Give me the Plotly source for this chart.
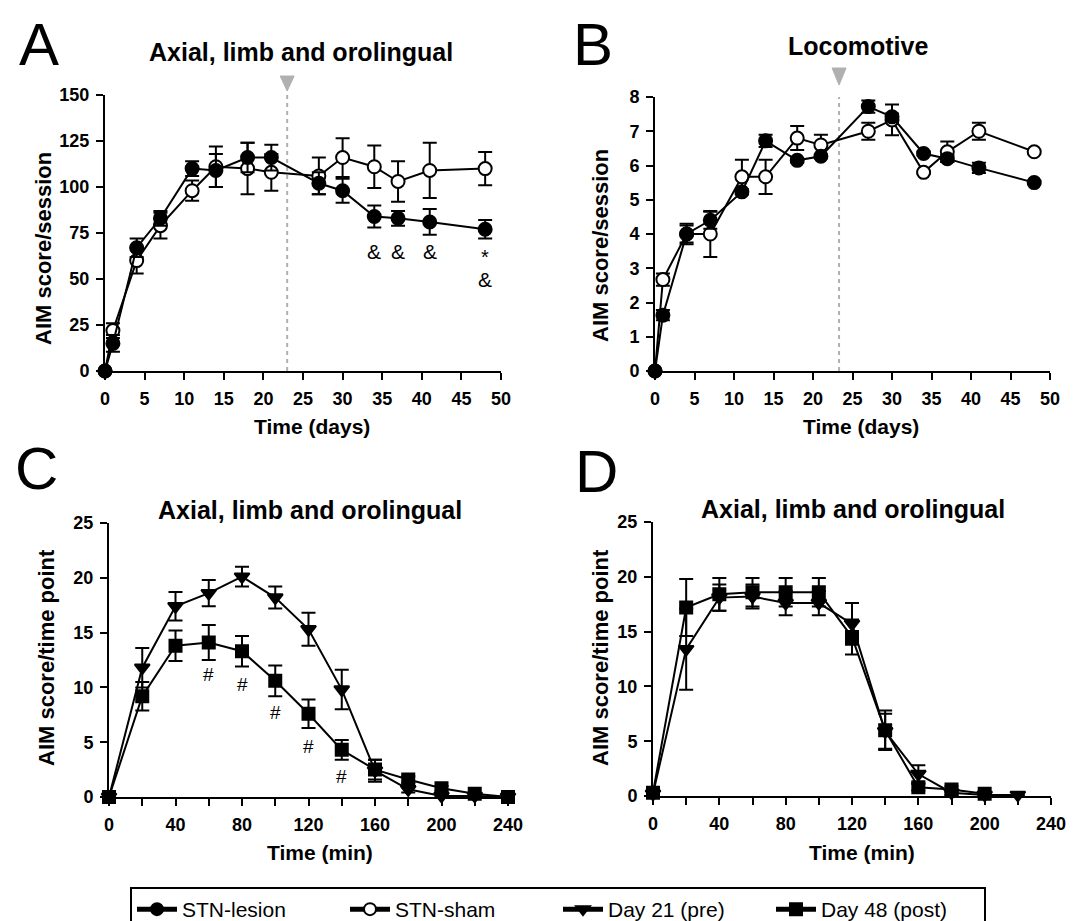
import plotly.graph_objects as go

W, H = 1079, 921

# ---------------- data ----------------
days = [0, 1, 4, 7, 11, 14, 18, 21, 27, 30, 34, 37, 41, 48]
a_lesion = [0, 15, 67, 83, 110, 109, 116, 116, 102, 98, 84, 83, 81, 77]
a_lesion_err = [0, 4.5, 5, 4, 4, 9, 8, 7, 6, 6.5, 6, 4, 7, 5]
a_sham = [0, 22, 60, 79, 98, 111, 110, 108, 106, 116, 111, 103, 109, 110]
a_sham_err = [0, 4, 7, 7, 5.5, 11, 14, 10, 10, 10.5, 11.5, 11, 15, 9]

b_lesion = [0, 1.63, 4.0, 4.4, 5.23, 6.72, 6.15, 6.27, 7.72, 7.42, 6.35, 6.2, 5.93, 5.5]
b_lesion_err = [0, 0.15, 0.25, 0.25, 0.08, 0.18, 0.06, 0.06, 0.18, 0.1, 0.06, 0.1, 0.15, 0.05]
b_sham = [0, 2.67, 4.0, 4.0, 5.67, 5.67, 6.8, 6.6, 7.0, 7.33, 5.8, 6.4, 7.0, 6.4]
b_sham_err = [0, 0.18, 0.3, 0.67, 0.5, 0.5, 0.35, 0.3, 0.25, 0.45, 0.05, 0.3, 0.25, 0.05]

minutes = [0, 20, 40, 60, 80, 100, 120, 140, 160, 180, 200, 220, 240]
c_pre = [0, 11.8, 17.4, 18.6, 20.1, 18.2, 15.3, 9.8, 2.4, 0.7, 0.1, 0.1, 0]
c_pre_err = [0, 1.8, 1.3, 1.2, 0.9, 1.0, 1.5, 1.8, 1.0, 0.3, 0, 0, 0]
c_post = [0, 9.2, 13.8, 14.1, 13.3, 10.6, 7.6, 4.3, 2.5, 1.6, 0.8, 0.3, 0]
c_post_err = [0, 1.3, 1.4, 1.6, 1.4, 1.4, 1.3, 0.9, 0.9, 0.3, 0.2, 0, 0]

d_min_pre = [0, 20, 40, 60, 80, 100, 120, 140, 160, 180, 200, 220]
d_pre = [0.2, 13.4, 18.1, 18.2, 17.6, 17.6, 15.7, 5.9, 2.0, 0.3, 0.1, 0.1]
d_pre_err = [0, 3.7, 1.2, 1.1, 1.1, 1.1, 1.9, 1.6, 0.8, 0.2, 0, 0]
d_min_post = [0, 20, 40, 60, 80, 100, 120, 140, 160, 180, 200]
d_post = [0.3, 17.2, 18.4, 18.6, 18.6, 18.6, 14.5, 6.0, 0.8, 0.6, 0.2]
d_post_err = [0, 2.6, 1.5, 1.3, 1.3, 1.3, 1.6, 1.8, 0.3, 0.3, 0.1]

amp_x = [34, 37, 41, 48]
amp_y = [65, 65, 65, 50]
star_x = [48]
star_y = [62]
hash_x = [60, 80, 100, 120, 140]
hash_y = [11.2, 10.3, 7.7, 4.6, 1.9]

switch_day_a = 23
switch_day_b = 23.3

x_ticks_days = [0, 5, 10, 15, 20, 25, 30, 35, 40, 45, 50]
x_ticks_min = [0, 20, 40, 60, 80, 100, 120, 140, 160, 180, 200, 220, 240]
x_ticktext_min = ["0", "", "40", "", "80", "", "120", "", "160", "", "200", "", "240"]

# ---------------- helpers ----------------
FONT = "Liberation Sans, Arial, sans-serif"


def px(x):
    return x / W


def py(y):
    return 1 - y / H


fig = go.Figure()

BLACK = "black"
GRAY = "#b0b0b0"


def add_series(x, y, err, xa, ya, symbol, fill, size, name, showlegend):
    fig.add_trace(go.Scatter(
        x=x, y=y, xaxis=xa, yaxis=ya, mode="lines+markers", name=name,
        showlegend=showlegend, legendgroup=name, cliponaxis=False,
        line=dict(color=BLACK, width=2),
        marker=dict(symbol=symbol, size=size, color=fill,
                    line=dict(color=BLACK, width=2)),
        error_y=dict(type="data", array=err, visible=True, color=BLACK,
                     thickness=2, width=7),
    ))


# Panel A
add_series(days, a_sham, a_sham_err, "x", "y", "circle", "white", 13, "STN-sham", False)
add_series(days, a_lesion, a_lesion_err, "x", "y", "circle", BLACK, 13, "STN-lesion", True)
# Panel B
add_series(days, b_sham, b_sham_err, "x2", "y2", "circle", "white", 13, "STN-sham", True)
add_series(days, b_lesion, b_lesion_err, "x2", "y2", "circle", BLACK, 13, "STN-lesion", False)
# Panel C
add_series(minutes, c_pre, c_pre_err, "x3", "y3", "triangle-down", BLACK, 13, "Day 21 (pre)", True)
add_series(minutes, c_post, c_post_err, "x3", "y3", "square", BLACK, 12, "Day 48 (post)", True)
# Panel D
add_series(d_min_pre, d_pre, d_pre_err, "x4", "y4", "triangle-down", BLACK, 13, "Day 21 (pre)", False)
add_series(d_min_post, d_post, d_post_err, "x4", "y4", "square", BLACK, 12, "Day 48 (post)", False)


def arrowhead(xref, yref, xd, plot_w, plot_h, top_gap, bottom_gap, half_w=7):
    """down-pointing gray triangle above the plot, in axis-domain units"""
    xl = xd - half_w / plot_w
    xr = xd + half_w / plot_w
    yt = 1 + top_gap / plot_h
    yb = 1 + bottom_gap / plot_h
    return dict(type="path", xref=xref, yref=yref,
                path=f"M {xl} {yt} L {xr} {yt} L {xd} {yb} Z",
                fillcolor=GRAY, line=dict(color=GRAY, width=1))


shapes = [
    dict(type="line", xref="x", yref="y", x0=switch_day_a, x1=switch_day_a, y0=0, y1=151,
         line=dict(color=GRAY, width=2, dash="4px,4px"), layer="below"),
    dict(type="line", xref="x2", yref="y2", x0=switch_day_b, x1=switch_day_b, y0=0, y1=8.05,
         line=dict(color=GRAY, width=2, dash="4px,4px"), layer="below"),
    arrowhead("x domain", "y domain", switch_day_a / 50, 396, 276, 19, 4),
    arrowhead("x2 domain", "y2 domain", switch_day_b / 50, 395, 274, 29, 12),
]

axis_common = dict(showline=True, linecolor=BLACK, linewidth=2, ticks="outside",
                   ticklen=7, tickwidth=2, tickcolor=BLACK, showgrid=False,
                   zeroline=False, ticklabelstandoff=3,
                   tickfont=dict(family=FONT, size=18, color=BLACK, weight="bold"))

layout = dict(
    width=W, height=H, margin=dict(l=0, r=0, t=0, b=0, autoexpand=False),
    paper_bgcolor="white", plot_bgcolor="white", showlegend=True,
    xaxis=dict(domain=[px(97), px(493)], range=[0, 50], tickvals=x_ticks_days, anchor="y", **axis_common),
    yaxis=dict(domain=[py(363), py(87)], range=[0, 150], tickvals=[0, 25, 50, 75, 100, 125, 150], anchor="x", **axis_common),
    xaxis2=dict(domain=[px(647), px(1042)], range=[0, 50], tickvals=x_ticks_days, anchor="y2", **axis_common),
    yaxis2=dict(domain=[py(363), py(89)], range=[0, 8], tickvals=list(range(9)), anchor="x2", **axis_common),
    xaxis3=dict(domain=[px(101), px(500)], range=[0, 240], tickvals=x_ticks_min, ticktext=x_ticktext_min, anchor="y3", **axis_common),
    yaxis3=dict(domain=[py(789), py(515)], range=[0, 25], tickvals=[0, 5, 10, 15, 20, 25], anchor="x3", **axis_common),
    xaxis4=dict(domain=[px(645), px(1043)], range=[0, 240], tickvals=x_ticks_min, ticktext=x_ticktext_min, anchor="y4", **axis_common),
    yaxis4=dict(domain=[py(788), py(514)], range=[0, 25], tickvals=[0, 5, 10, 15, 20, 25], anchor="x4", **axis_common),
    shapes=shapes,
    legend=dict(orientation="h", x=px(122), y=py(879), xanchor="left", yanchor="top",
                bgcolor="white", bordercolor=BLACK, borderwidth=2,
                font=dict(family=FONT, size=21, color=BLACK),
                entrywidth=158, entrywidthmode="pixels", itemwidth=40,
                itemsizing="constant", traceorder="normal"),
)

annotations = []


def text(xp, yp, s, size, bold=False, angle=0):
    annotations.append(dict(xref="paper", yref="paper", x=px(xp), y=py(yp), text=s,
                            showarrow=False, xanchor="center", yanchor="middle", textangle=angle,
                            font=dict(family=FONT, size=size, color=BLACK,
                                      weight="bold" if bold else "normal")))


# panel letters
text(31, 36, "A", 60)
text(585, 36, "B", 60)
text(28, 460, "C", 60)
text(588, 463, "D", 60)
# titles
text(293, 44, "Axial, limb and orolingual", 25, True)
text(850, 38, "Locomotive", 25, True)
text(302, 502, "Axial, limb and orolingual", 25, True)
text(845, 501, "Axial, limb and orolingual", 25, True)
# axis titles
text(35, 240, "AIM score/session", 22, True, -90)
text(592, 238, "AIM score/session", 22, True, -90)
text(38, 650, "AIM score/time point", 22, True, -90)
text(592, 650, "AIM score/time point", 22, True, -90)
text(304, 418, "Time (days)", 21, True)
text(853, 418, "Time (days)", 21, True)
text(312, 844, "Time (min)", 21, True)
text(854, 844, "Time (min)", 21, True)

for xv, yv in zip(amp_x, amp_y):
    annotations.append(dict(xref="x", yref="y", x=xv, y=yv, text="&", showarrow=False,
                            font=dict(family=FONT, size=21, color=BLACK)))
for xv, yv in zip(star_x, star_y):
    annotations.append(dict(xref="x", yref="y", x=xv, y=yv, text="*", showarrow=False,
                            font=dict(family=FONT, size=20, color=BLACK)))
for xv, yv in zip(hash_x, hash_y):
    annotations.append(dict(xref="x3", yref="y3", x=xv, y=yv, text="#", showarrow=False,
                            font=dict(family=FONT, size=19, color=BLACK)))

layout["annotations"] = annotations
fig.update_layout(**layout)
fig.write_html("out.html")
